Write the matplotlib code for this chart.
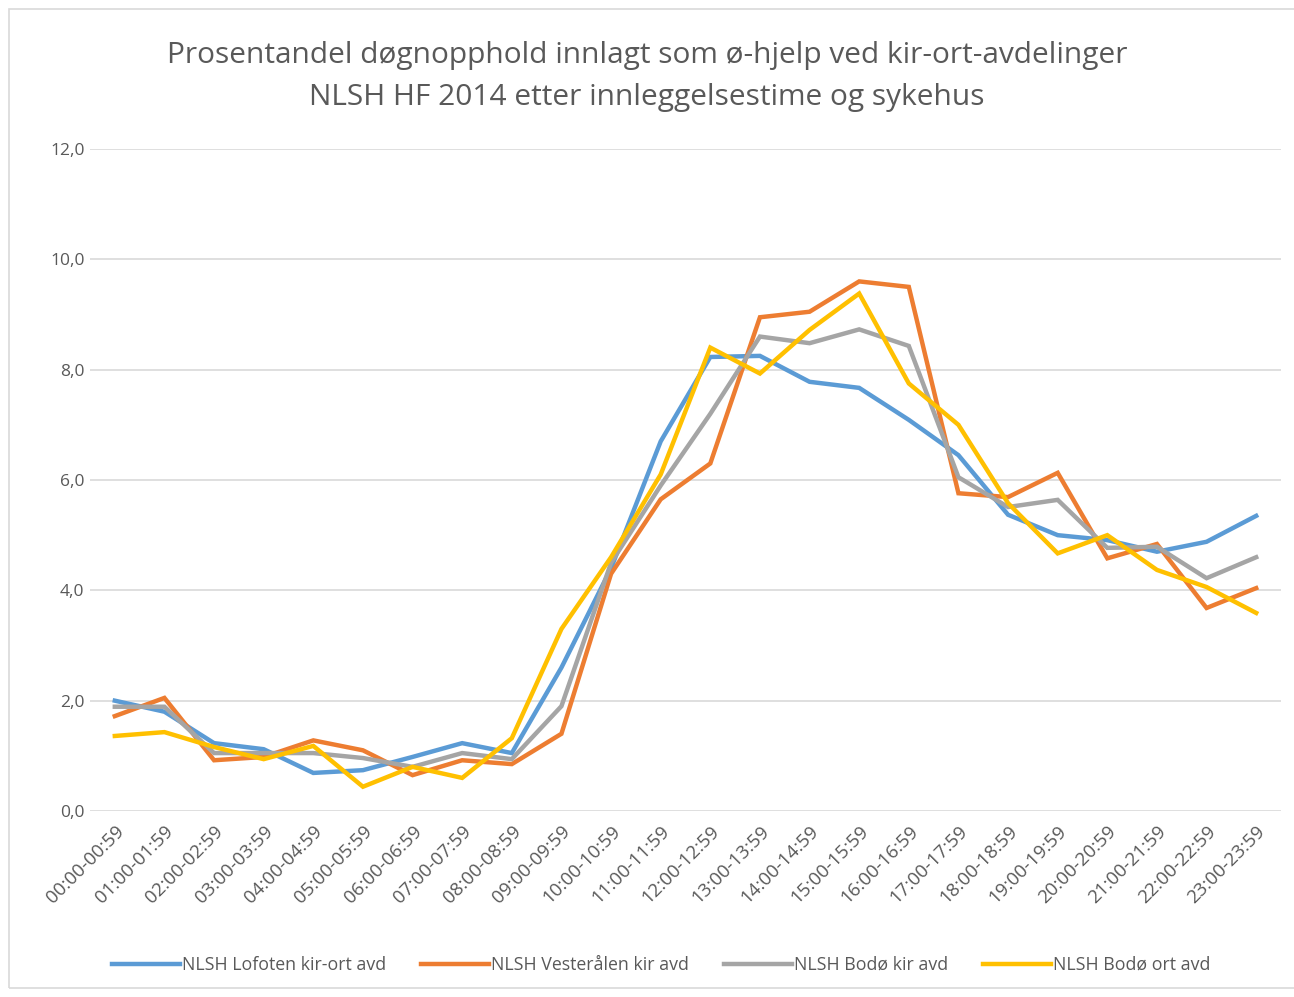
import numpy as np
import matplotlib.pyplot as plt
from matplotlib.patches import Rectangle

hours = ["%02d:00-%02d:59" % (h, h) for h in range(24)]

lofoten = [2.0, 1.8, 1.23, 1.12, 0.69, 0.74, 0.98, 1.23, 1.05, 2.6, 4.4, 6.7,
           8.23, 8.25, 7.78, 7.67, 7.09, 6.45, 5.37, 5.0, 4.91, 4.7, 4.88, 5.35]
vesteralen = [1.72, 2.05, 0.92, 0.98, 1.28, 1.1, 0.65, 0.92, 0.85, 1.4, 4.3, 5.65,
              6.3, 8.95, 9.05, 9.6, 9.5, 5.76, 5.69, 6.13, 4.58, 4.84, 3.68, 4.04]
bodo_kir = [1.89, 1.89, 1.05, 1.05, 1.05, 0.96, 0.8, 1.05, 0.94, 1.9, 4.5, 5.9,
            7.2, 8.6, 8.48, 8.73, 8.43, 6.05, 5.51, 5.64, 4.77, 4.79, 4.22, 4.6]
bodo_ort = [1.36, 1.43, 1.16, 0.94, 1.18, 0.44, 0.8, 0.6, 1.32, 3.3, 4.6, 6.1,
            8.4, 7.93, 8.72, 9.38, 7.75, 7.0, 5.58, 4.67, 5.0, 4.37, 4.06, 3.59]

series = [
    ("NLSH Lofoten kir-ort avd", lofoten, "#5B9BD5"),
    ("NLSH Vesterålen kir avd", vesteralen, "#ED7D31"),
    ("NLSH Bodø kir avd", bodo_kir, "#A5A5A5"),
    ("NLSH Bodø ort avd", bodo_ort, "#FFC000"),
]

plt.rcParams['font.family'] = ['Open Sans', 'DejaVu Sans']
text_col = "#595959"

fig = plt.figure(figsize=(12.94, 9.97), dpi=100)
W, H = 1294, 997
ax = fig.add_axes([90 / W, 1 - 811 / H, (1281 - 90) / W, (811 - 149) / H])

x = np.arange(len(hours))
for name, vals, col in series:
    ax.plot(x, vals, color=col, lw=3.2, label=name, solid_joinstyle="miter")

ax.set_xlim(-0.5, 23.5)
ax.set_ylim(0, 12)
ax.set_yticks(np.arange(0, 13, 2))
ax.set_yticklabels([("%.1f" % v).replace(".", ",") for v in np.arange(0, 13, 2)],
                   color=text_col, fontsize=12.5)
ax.set_xticks(x)
ax.set_xticklabels(hours, rotation=45, ha="right", va="top", rotation_mode="anchor",
                   color=text_col, fontsize=13.5)
ax.tick_params(axis="both", length=0)
ax.tick_params(axis="y", pad=4)
ax.tick_params(axis="x", pad=8)
ax.grid(axis="y", color="#D9D9D9", lw=1.2)
ax.set_axisbelow(True)
for s in ax.spines.values():
    s.set_visible(False)

fig.text(0.5, 1 - 55 / H, "Prosentandel døgnopphold innlagt som ø-hjelp ved kir-ort-avdelinger",
         ha="center", va="center", fontsize=21.5, color=text_col)
fig.text(0.5, 1 - 97 / H, "NLSH HF 2014 etter innleggelsestime og sykehus",
         ha="center", va="center", fontsize=21.5, color=text_col)

leg = fig.legend(loc="center", bbox_to_anchor=(0.511, 1 - 965 / H), ncol=4, frameon=False,
                 fontsize=12.8, handlelength=3.8, handletextpad=0.1, columnspacing=2.0)
for t in leg.get_texts():
    t.set_color(text_col)

fig.patches.append(Rectangle((9 / W, 1 - 988 / H), 1.0, (988 - 9) / H,
                             transform=fig.transFigure, fill=False,
                             edgecolor="#D9D9D9", lw=1.2))

fig.savefig("out.png", dpi=100)
